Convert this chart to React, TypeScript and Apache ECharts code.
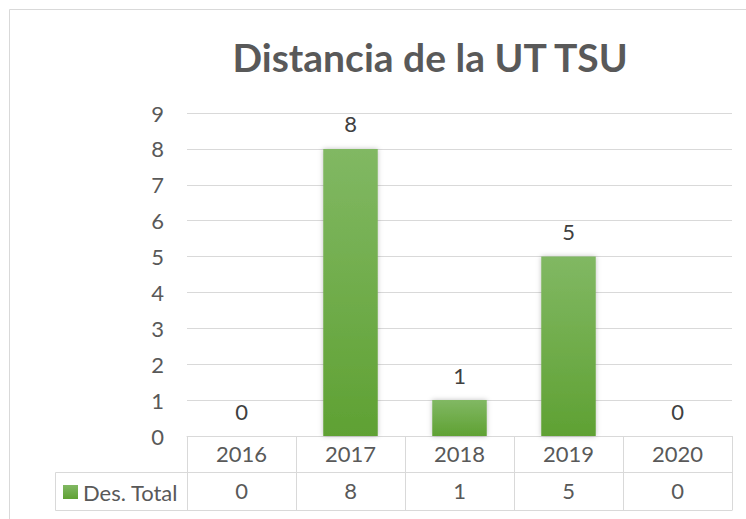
import React, { useEffect, useRef } from "react";
import * as echarts from "echarts";

const title = "Distancia de la UT TSU";
const seriesName = "Des. Total";
const years = ["2016", "2017", "2018", "2019", "2020"];
const values = [0, 8, 1, 5, 0];
const yTicks = { min: 0, max: 9, interval: 1 };

const FONT = "Lato";
const GRID_C = "#d9d9d9";
const TXT = "#595959";
const FS = 22;

export default function App() {
  const ref = useRef<HTMLDivElement>(null);
  useEffect(() => {
    if (!ref.current) return;
    const chart = echarts.init(ref.current, null, { renderer: "svg" });
    const barColor = new echarts.graphic.LinearGradient(0, 0, 0, 1, [
      { offset: 0, color: "#81b863" },
      { offset: 1, color: "#5fa133" },
    ]);
    chart.setOption({
      animation: false,
      backgroundColor: "#ffffff",
      textStyle: { fontFamily: FONT },
      title: {
        text: title,
        left: 425,
        textAlign: "center",
        top: 32,
        textStyle: { fontFamily: FONT, fontSize: 39, fontWeight: "bold", color: TXT },
      },
      legend: {
        data: [{ name: seriesName, icon: "rect" }],
        left: 63,
        top: 481,
        padding: 0,
        itemWidth: 15,
        itemHeight: 14,
        selectedMode: false,
        textStyle: { fontFamily: FONT, fontSize: FS, color: TXT },
      },
      grid: { left: 187, right: 14, top: 113, bottom: 83, containLabel: false },
      xAxis: [
        {
          type: "category",
          data: years,
          position: "bottom",
          axisLine: { show: true, lineStyle: { color: GRID_C, width: 1 } },
          axisTick: { show: true, length: 36, interval: 0, lineStyle: { color: GRID_C } },
          axisLabel: { margin: 17, verticalAlign: "middle", fontSize: FS, color: TXT, fontFamily: FONT, interval: 0 },
        },
        {
          type: "category",
          data: values.map((v) => String(v)),
          position: "bottom",
          offset: 36,
          axisLine: { show: true, lineStyle: { color: GRID_C, width: 1 } },
          axisTick: { show: true, length: 38, interval: 0, lineStyle: { color: GRID_C } },
          axisLabel: { margin: 18, verticalAlign: "middle", fontSize: FS, color: TXT, fontFamily: FONT, interval: 0 },
        },
      ],
      yAxis: {
        type: "value",
        min: yTicks.min,
        max: yTicks.max,
        interval: yTicks.interval,
        axisLine: { show: false },
        axisTick: { show: false },
        axisLabel: { margin: 23, fontSize: FS, color: TXT, fontFamily: FONT },
        splitLine: { lineStyle: { color: GRID_C, width: 1 } },
      },
      series: [
        {
          name: seriesName,
          type: "bar",
          xAxisIndex: 0,
          data: values,
          barWidth: "50%",
          itemStyle: {
            color: barColor,
            shadowBlur: 5,
            shadowColor: "rgba(0,0,0,0.25)",
          },
          label: {
            show: true,
            position: "top",
            distance: 14,
            fontSize: FS,
            color: "#404040",
            fontFamily: FONT,
          },
        },
      ],
      graphic: [
        {
          type: "rect",
          shape: { x: 9.5, y: 9.5, width: 780, height: 560 },
          style: { fill: "none", stroke: GRID_C, lineWidth: 1 },
          silent: true,
        },
        {
          type: "line",
          shape: { x1: 55.5, y1: 472.5, x2: 187, y2: 472.5 },
          style: { stroke: GRID_C, lineWidth: 1 },
        },
        {
          type: "line",
          shape: { x1: 55.5, y1: 510.5, x2: 732.5, y2: 510.5 },
          style: { stroke: GRID_C, lineWidth: 1 },
        },
        {
          type: "line",
          shape: { x1: 55.5, y1: 472.5, x2: 55.5, y2: 510.5 },
          style: { stroke: GRID_C, lineWidth: 1 },
        },
      ],
    });
    return () => chart.dispose();
  }, []);
  return (
    <div
      ref={ref}
      style={{ position: "absolute", left: 0, top: 0, width: 746, height: 519, background: "#fff" }}
    />
  );
}
